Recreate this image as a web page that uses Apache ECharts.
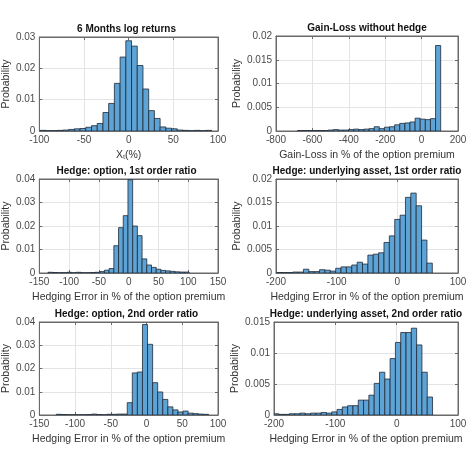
<!DOCTYPE html>
<html>
<head>
<meta charset="utf-8">
<script src="https://cdn.jsdelivr.net/npm/echarts@6/dist/echarts.min.js"></script>
<style>html,body{margin:0;padding:0;background:#fff}#c{width:474px;height:474px}</style>
</head>
<body>
<div id="c"></div>
<script>
// ---- data ----
const titles = ["6 Months log returns", "Gain-Loss without hedge", "Hedge: option, 1st order ratio",
  "Hedge: underlying asset, 1st order ratio", "Hedge: option, 2nd order ratio", "Hedge: underlying asset, 2nd order ratio"];
const xNames = ["X\u209c(%)", "Gain-Loss in % of the option premium", "Hedging Error in % of the option premium",
  "Hedging Error in % of the option premium", "Hedging Error in % of the option premium", "Hedging Error in % of the option premium"];

const xMin = [-100, -800, -150, -200, -150, -200];
const xMax = [100, 200, 150, 100, 100, 100];
const xStep = [50, 200, 50, 100, 50, 100];
const yMax = [0.03, 0.02, 0.04, 0.02, 0.04, 0.015];
const yStep = [0.01, 0.005, 0.01, 0.005, 0.01, 0.005];

const binStart = [-99.2, -682, -135.5, -199, -126.4, -201];
const binWidth = [6.4, 28.1, 7.9, 8.85, 7.1, 8.65];

const logReturns = [0.0002,0.0001,0.0001,0.0002,0.0003,0.0005,0.0007,0.0008,0.0012,0.0017,0.0024,0.0059,0.0088,0.0152,0.0236,0.0288,0.0271,0.0209,0.0134,0.0065,0.0040,0.0013,0.0009,0.0007,0.0003,0.0002,0.0001,0.0002,0.0001,0.0002];
const gainLoss = [0.0001,0.0001,0.0001,0.0001,0.0001,0.0001,0.0002,0.0003,0.0002,0.0002,0.0003,0.0004,0.0003,0.0004,0.0005,0.0009,0.0005,0.0008,0.0009,0.0013,0.0016,0.0017,0.0019,0.0027,0.0025,0.0024,0.0026,0.0180];
const optFirst = [0.0003,0.0002,0.0001,0.0001,0.0003,0.0001,0.0003,0.0001,0.0001,0.0002,0.0003,0.0006,0.0012,0.0019,0.0116,0.0193,0.0244,0.0397,0.0200,0.0159,0.0060,0.0034,0.0024,0.0016,0.0011,0.0009,0.0007,0.0005,0.0004,0.0004];
const undFirst = [0.0001,0.0001,0.0001,0.0002,0.0002,0.0008,0.0003,0.0003,0.0007,0.0006,0.0004,0.0010,0.0013,0.0013,0.0017,0.0023,0.0019,0.0038,0.0040,0.0043,0.0065,0.0079,0.0114,0.0123,0.0161,0.0170,0.0143,0.0070,0.0021];
const optSecond = [0.0003,0.0002,0.0001,0.0001,0.0001,0.0001,0.0002,0.0004,0.0002,0.0001,0.0003,0.0003,0.0004,0.0004,0.0053,0.0181,0.0185,0.0389,0.0304,0.0139,0.0099,0.0067,0.0035,0.0022,0.0013,0.0017,0.0008,0.0006,0.0004,0.0003];
const undSecond = [0.0002,0.0001,0.0001,0.0002,0.0002,0.0003,0.0002,0.0003,0.0003,0.0004,0.0003,0.0005,0.0009,0.0013,0.0015,0.0015,0.0024,0.0024,0.0032,0.0051,0.0069,0.0058,0.0091,0.0117,0.0133,0.0133,0.0140,0.0113,0.0069,0.0029];
const allValues = [logReturns, gainLoss, optFirst, undFirst, optSecond, undSecond];

// ---- layout ----
const grids = [
  {left: 35, top: 37, width: 183, height: 94},
  {left: 276, top: 36, width: 182, height: 95},
  {left: 35, top: 179, width: 183, height: 94},
  {left: 276, top: 179, width: 182, height: 94},
  {left: 35, top: 322, width: 183, height: 93},
  {left: 274, top: 322, width: 184, height: 93}
];
const FONT = 'Liberation Sans, Arial, sans-serif';
const tickColor = '#4a4a4a';
const boxColor = '#6a6a6a';
const gridColor = '#e4e4e4';

const option = {
  backgroundColor: '#fff',
  animation: false,
  title: [], grid: [], xAxis: [], yAxis: [], series: []
};

for (let p = 0; p < 6; p++) {
  const g = grids[p];
  option.grid.push({left: g.left, top: g.top, width: g.width, height: g.height, show: true,
    borderColor: boxColor, borderWidth: 1, backgroundColor: '#fff', containLabel: false});
  option.title.push({text: titles[p], left: g.left + g.width / 2, top: g.top - 13, padding: 0, textAlign: 'center',
    textStyle: {fontFamily: FONT, fontSize: 10, fontWeight: 'bold', color: '#111'}});
  // main axes
  option.xAxis.push({type: 'value', gridIndex: p, min: xMin[p], max: xMax[p], interval: xStep[p],
    name: xNames[p], nameLocation: 'middle', nameGap: 19,
    nameTextStyle: {fontFamily: FONT, fontSize: 10.5, color: '#333'},
    axisLine: {show: true, onZero: false, lineStyle: {color: boxColor, width: 1}},
    axisTick: {show: true, inside: true, length: 3, lineStyle: {color: boxColor}},
    axisLabel: {fontFamily: FONT, fontSize: 10, color: tickColor, margin: 4},
    splitLine: {show: true, lineStyle: {color: gridColor, width: 1}}});
  option.yAxis.push({type: 'value', gridIndex: p, min: 0, max: yMax[p], interval: yStep[p],
    name: 'Probability', nameLocation: 'middle', nameGap: 24,
    nameTextStyle: {fontFamily: FONT, fontSize: 10.5, color: '#333'},
    axisLine: {show: true, onZero: false, lineStyle: {color: boxColor, width: 1}},
    axisTick: {show: true, inside: true, length: 3, lineStyle: {color: boxColor}},
    axisLabel: {fontFamily: FONT, fontSize: 10, color: tickColor, margin: 4},
    splitLine: {show: true, lineStyle: {color: gridColor, width: 1}}});
  // mirror axes for the box ticks (top / right)
  option.xAxis.push({type: 'value', gridIndex: p, position: 'top', min: xMin[p], max: xMax[p], interval: xStep[p],
    axisLine: {show: true, onZero: false, lineStyle: {color: boxColor}},
    axisTick: {show: true, inside: true, length: 3, lineStyle: {color: boxColor}},
    axisLabel: {show: false}, splitLine: {show: false}});
  option.yAxis.push({type: 'value', gridIndex: p, position: 'right', min: 0, max: yMax[p], interval: yStep[p],
    axisLine: {show: true, onZero: false, lineStyle: {color: boxColor}},
    axisTick: {show: true, inside: true, length: 3, lineStyle: {color: boxColor}},
    axisLabel: {show: false}, splitLine: {show: false}});

  const vals = allValues[p];
  const data = vals.map((v, i) => [binStart[p] + i * binWidth[p], binStart[p] + (i + 1) * binWidth[p], v]);
  option.series.push({
    type: 'custom', xAxisIndex: 2 * p, yAxisIndex: 2 * p, clip: true,
    encode: {x: [0, 1], y: 2},
    data: data,
    renderItem: function (params, api) {
      const a = api.coord([api.value(0), api.value(2)]);
      const b = api.coord([api.value(1), 0]);
      return {type: 'rect',
        shape: {x: a[0], y: a[1], width: b[0] - a[0], height: b[1] - a[1]},
        style: {fill: '#5ea3d6', stroke: '#1f2a36', lineWidth: 0.8}};
    }
  });
}

const chart = echarts.init(document.getElementById('c'), null, {renderer: 'canvas'});
chart.setOption(option);
</script>
</body>
</html>
